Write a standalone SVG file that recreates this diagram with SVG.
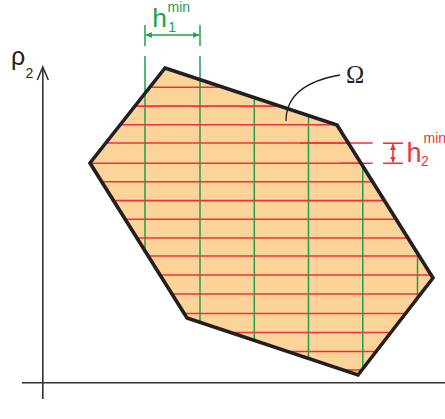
<svg xmlns="http://www.w3.org/2000/svg" width="445" height="419" viewBox="0 0 445 419">
  <style>
    .grn { stroke: #1ba14b; stroke-width: 1.5; fill: none; }
    .red { stroke: #ee3338; stroke-width: 1.6; fill: none; }
    .axis { stroke: #333333; stroke-width: 1.6; fill: none; }
    .sans { font-family: "Liberation Sans", Arial, sans-serif; }
    .serif { font-family: "Liberation Serif", "Times New Roman", serif; }
  </style>
  <defs>
    <clipPath id="omegaClip">
      <polygon points="165,68 337,125 433,278 358,375 187,318 90,163"/>
    </clipPath>
    <marker id="arrG" viewBox="0 0 10 10" refX="10" refY="5" markerWidth="6" markerHeight="6" markerUnits="userSpaceOnUse" orient="auto-start-reverse">
      <path d="M0,0 L10,5 L0,10 Z" fill="#1ba14b"/>
    </marker>
    <marker id="arrR" viewBox="0 0 10 10" refX="10" refY="5" markerWidth="6" markerHeight="6" markerUnits="userSpaceOnUse" orient="auto-start-reverse">
      <path d="M0,0 L10,5 L0,10 Z" fill="#ee3338"/>
    </marker>
  </defs>

  <g id="domain">
    <polygon points="165,68 337,125 433,278 358,375 187,318 90,163" fill="#fcd399"/>
    <g id="grid-green">
      <line class="grn" x1="145" y1="56" x2="145" y2="251"/>
      <line class="grn" x1="200" y1="56" x2="200" y2="322.5"/>
      <g clip-path="url(#omegaClip)">
        <line class="grn" x1="254.3" y1="60" x2="254.3" y2="380"/>
        <line class="grn" x1="308.5" y1="60" x2="308.5" y2="380"/>
        <line class="grn" x1="362.8" y1="60" x2="362.8" y2="380"/>
        <line class="grn" x1="417.5" y1="60" x2="417.5" y2="380"/>
      </g>
    </g>
    <g id="grid-red">
      <g clip-path="url(#omegaClip)">
        <line class="red" x1="80" y1="87.3" x2="440" y2="87.3"/>
        <line class="red" x1="80" y1="106.1" x2="440" y2="106.1"/>
        <line class="red" x1="80" y1="124.8" x2="440" y2="124.8"/>
        <line class="red" x1="80" y1="181.8" x2="440" y2="181.8"/>
        <line class="red" x1="80" y1="200.6" x2="440" y2="200.6"/>
        <line class="red" x1="80" y1="219.3" x2="440" y2="219.3"/>
        <line class="red" x1="80" y1="238" x2="440" y2="238"/>
        <line class="red" x1="80" y1="256" x2="440" y2="256"/>
        <line class="red" x1="80" y1="275" x2="440" y2="275"/>
        <line class="red" x1="80" y1="294" x2="440" y2="294"/>
        <line class="red" x1="80" y1="313.5" x2="440" y2="313.5"/>
        <line class="red" x1="80" y1="332.5" x2="440" y2="332.5"/>
        <line class="red" x1="80" y1="351.5" x2="440" y2="351.5"/>
        <line class="red" x1="80" y1="370" x2="440" y2="370"/>
        <line class="red" x1="80" y1="163.3" x2="440" y2="163.3"/>
        <line class="red" x1="80" y1="143" x2="440" y2="143"/>
      </g>
      <line class="red" x1="300" y1="143" x2="372.7" y2="143"/>
      <line class="red" x1="340" y1="163.3" x2="372.7" y2="163.3"/>
    </g>
    <polygon points="165,68 337,125 433,278 358,375 187,318 90,163" fill="none" stroke="#231f20" stroke-width="3.6" stroke-linejoin="miter"/>
  </g>

  <g id="connectors">
    <g id="axes">
      <line class="axis" x1="22" y1="382.7" x2="445" y2="382.7"/>
      <line class="axis" x1="42.8" y1="67.5" x2="42.8" y2="399"/>
      <polyline class="axis" points="37.3,80 42.8,67 48.3,80"/>
    </g>
    <g id="dim-h1">
      <line class="grn" x1="145" y1="25" x2="145" y2="46"/>
      <line class="grn" x1="200" y1="25" x2="200" y2="46"/>
      <line class="grn" x1="145.8" y1="35" x2="199.2" y2="35" marker-start="url(#arrG)" marker-end="url(#arrG)"/>
    </g>
    <g id="dim-h2">
      <line class="red" x1="383" y1="143.2" x2="403" y2="143.2"/>
      <line class="red" x1="383" y1="163.3" x2="403" y2="163.3"/>
      <line class="red" x1="393" y1="144" x2="393" y2="162.5" marker-start="url(#arrR)" marker-end="url(#arrR)"/>
    </g>
    <path id="omega-leader" d="M286,121 C286,100 300,82 340,75" fill="none" stroke="#231f20" stroke-width="1.3"/>
  </g>

  <g id="labels">
    <g id="label-rho2">
      <text class="sans" x="11" y="65" font-size="25" fill="#231f20">ρ</text>
      <text class="sans" x="25.5" y="78.3" font-size="14" fill="#231f20">2</text>
    </g>
    <g id="label-omega">
      <text class="serif" x="346" y="83" font-size="24.5" fill="#231f20">Ω</text>
    </g>
    <g id="label-h1min" fill="#1ba14b">
      <text class="sans" x="152.3" y="27.3" font-size="26.5">h</text>
      <text class="sans" x="168.3" y="31.7" font-size="14">1</text>
      <text class="sans" x="167.5" y="11.7" font-size="14">min</text>
    </g>
    <g id="label-h2min" fill="#ee3338">
      <text class="sans" x="406.5" y="162.3" font-size="27">h</text>
      <text class="sans" x="421" y="165.7" font-size="14">2</text>
      <text class="sans" x="423.5" y="143.3" font-size="14">min</text>
    </g>
  </g>
</svg>
